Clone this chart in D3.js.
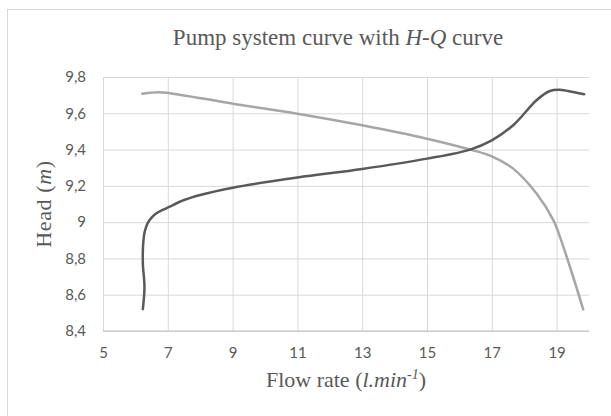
<!DOCTYPE html>
<html>
<head>
<meta charset="utf-8">
<script src="https://cdn.jsdelivr.net/npm/d3@7"></script>
<style>
  body { margin: 0; background: #fff; }
  svg { display: block; }
</style>
</head>
<body>
<script>
const width = 611;
const height = 416;

// flow rate (l/min) and head (m)
const systemQ = [6.23, 6.28, 6.23, 6.24, 6.29, 6.38, 6.5, 6.66, 6.84, 7.01, 7.5, 8.0, 9.01, 11, 13, 15, 16.33, 17, 17.66, 18.38, 18.79, 19.1, 19.51, 19.85];
const systemH = [8.52, 8.644, 8.772, 8.88, 8.95, 8.995, 9.025, 9.05, 9.067, 9.081, 9.122, 9.15, 9.19, 9.246, 9.293, 9.35, 9.4, 9.451, 9.534, 9.672, 9.723, 9.73, 9.717, 9.705];
const pumpQ = [6.21, 6.72, 7.01, 9.01, 11, 13, 15, 16.33, 17, 17.66, 18.38, 18.9, 19.1, 19.51, 19.82];
const pumpH = [9.708, 9.716, 9.712, 9.653, 9.598, 9.534, 9.46, 9.4, 9.363, 9.295, 9.158, 9.011, 8.92, 8.699, 8.519];

const xTicks = [5, 7, 9, 11, 13, 15, 17, 19];
const yTicks = [8.4, 8.6, 8.8, 9, 9.2, 9.4, 9.6, 9.8];
const yTickLabels = ['8,4', '8,6', '8,8', '9', '9,2', '9,4', '9,6', '9,8'];

const plot = { left: 103, right: 589, top: 77, bottom: 331 };

const x = d3.scaleLinear().domain([5, 20]).range([plot.left, plot.right]);
const y = d3.scaleLinear().domain([8.4, 9.8]).range([plot.bottom, plot.top]);

const svg = d3.select('body')
  .append('svg')
  .attr('width', width)
  .attr('height', height);

// chart border (runs off the right and bottom edges)
svg.append('rect')
  .attr('x', 7.5).attr('y', 9.5)
  .attr('width', 700).attr('height', 500)
  .attr('fill', '#fff')
  .attr('stroke', '#d9d9d9');

// gridlines
svg.append('g')
  .attr('transform', `translate(${plot.left},0)`)
  .call(d3.axisLeft(y).tickValues(yTicks).tickSize(-(plot.right - plot.left)).tickFormat(''))
  .call(g => g.select('.domain').remove())
  .call(g => g.selectAll('line').attr('stroke', '#d9d9d9'));

svg.append('g')
  .attr('transform', `translate(0,${plot.bottom})`)
  .call(d3.axisBottom(x).tickValues(xTicks).tickSize(-(plot.bottom - plot.top)).tickFormat(''))
  .call(g => g.select('.domain').remove())
  .call(g => g.selectAll('line').attr('stroke', '#d9d9d9'));

// bottom axis line
svg.append('line')
  .attr('x1', plot.left).attr('x2', plot.right)
  .attr('y1', plot.bottom).attr('y2', plot.bottom)
  .attr('stroke', '#bfbfbf');

// tick labels
svg.append('g')
  .attr('transform', `translate(${plot.left},0)`)
  .call(d3.axisLeft(y).tickValues(yTicks).tickSize(0).tickPadding(17)
    .tickFormat((d, i) => yTickLabels[i]))
  .call(g => g.select('.domain').remove())
  .call(g => g.selectAll('text')
    .attr('fill', '#595959')
    .style('font-family', 'Lato, sans-serif')
    .style('font-size', '15px'));

svg.append('g')
  .attr('transform', `translate(0,${plot.bottom})`)
  .call(d3.axisBottom(x).tickValues(xTicks).tickSize(0).tickPadding(16))
  .call(g => g.select('.domain').remove())
  .call(g => g.selectAll('text')
    .attr('fill', '#595959')
    .style('font-family', 'Lato, sans-serif')
    .style('font-size', '15px'));

// curves
const line = d3.line()
  .x(d => x(d[0]))
  .y(d => y(d[1]))
  .curve(d3.curveCatmullRom.alpha(0.5));

svg.append('path')
  .datum(pumpQ.map((q, i) => [q, pumpH[i]]))
  .attr('d', line)
  .attr('fill', 'none')
  .attr('stroke', '#a6a6a6')
  .attr('stroke-width', 2.5)
  .attr('stroke-linecap', 'round');

svg.append('path')
  .datum(systemQ.map((q, i) => [q, systemH[i]]))
  .attr('d', line)
  .attr('fill', 'none')
  .attr('stroke', '#595959')
  .attr('stroke-width', 2.5)
  .attr('stroke-linecap', 'round');

// titles
const serif = '"Liberation Serif", "Times New Roman", serif';

const title = svg.append('text')
  .attr('x', 338).attr('y', 45)
  .attr('text-anchor', 'middle')
  .attr('fill', '#595959')
  .style('font-family', serif)
  .style('font-size', '23px');
title.append('tspan').text('Pump system curve with ');
title.append('tspan').style('font-style', 'italic').text('H-Q');
title.append('tspan').text(' curve');

const xTitle = svg.append('text')
  .attr('x', 346).attr('y', 387)
  .attr('text-anchor', 'middle')
  .attr('fill', '#595959')
  .style('font-family', serif)
  .style('font-size', '22px');
xTitle.append('tspan').text('Flow rate (');
xTitle.append('tspan').style('font-style', 'italic').text('l.min');
xTitle.append('tspan').style('font-style', 'italic').style('font-size', '14px')
  .attr('dy', -8).text('-1');
xTitle.append('tspan').attr('dy', 8).text(')');

const yTitle = svg.append('text')
  .attr('transform', `translate(51,${(plot.top + plot.bottom) / 2}) rotate(-90)`)
  .attr('text-anchor', 'middle')
  .attr('fill', '#595959')
  .style('font-family', serif)
  .style('font-size', '22px')
  .style('letter-spacing', '0.6px');
yTitle.append('tspan').text('Head (');
yTitle.append('tspan').style('font-style', 'italic').text('m');
yTitle.append('tspan').text(')');
</script>
</body>
</html>
